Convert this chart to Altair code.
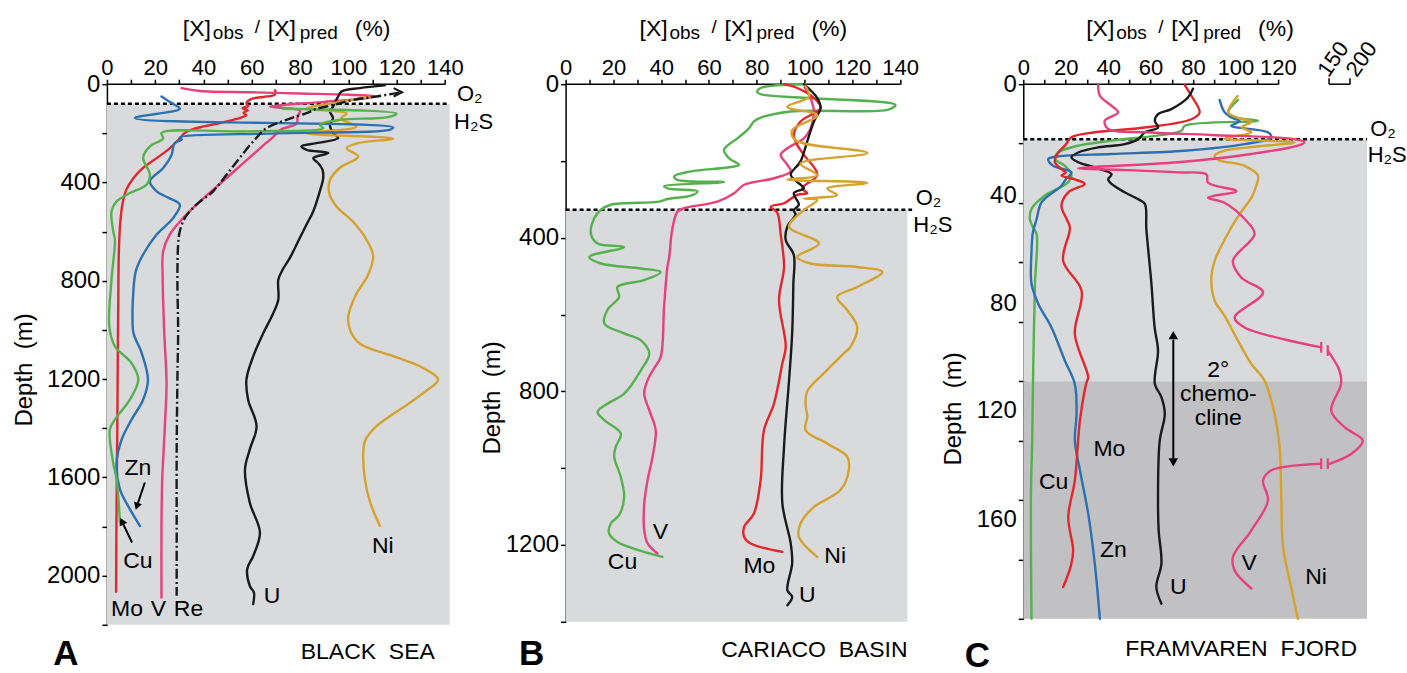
import altair as alt
import pandas as pd

FONT = "Liberation Sans"
ELEMENTS = ["Mo", "V", "Cu", "Zn", "Ni", "U", "Re"]
COLORS = ["#e3262d", "#e8407b", "#55b14f", "#2b70b3", "#d4a22e", "#1a1a1a", "#1a1a1a"]
LIGHT = "#d9dadc"
DARK = "#c1c1c3"

# ---------------- Panel A : Black Sea  (x %, depth m) ----------------
A_MO = [(69.7, 25), (69.6, 42), (64.8, 52), (59.9, 60), (57.8, 77), (58.5, 88), (56.2, 98), (58.4, 106),
        (56.6, 116), (57.8, 126), (55.8, 135), (52.3, 145), (46, 160), (40, 172), (35, 185), (32, 200),
        (29.8, 225), (25.5, 265), (20, 305), (14.5, 345), (10.8, 385), (8, 430), (6.4, 490), (5.4, 580),
        (4.9, 700), (4.7, 900), (4.5, 1100), (4.3, 1400), (4.0, 1700), (3.8, 2065)]
A_V = [(30.9, 16), (38.5, 28), (60, 33), (80, 38), (100, 43), (111, 50), (105, 60), (90, 72), (67.5, 91),
       (72, 96), (80, 108), (79, 130), (78.6, 160), (72, 185), (69, 213), (63.5, 260), (56.6, 320),
       (48.6, 390), (41.6, 450), (36, 500), (31.6, 544), (26, 612), (23.3, 680), (23.1, 790), (23.7, 1000),
       (24.7, 1216), (24.2, 1350), (23.3, 1527), (22.9, 1608), (22.6, 1800), (22.6, 2089)]
A_RE = [(121, 35), (111.7, 50), (102, 64), (93.7, 85), (87, 100), (82.7, 118), (74.4, 145), (66.1, 179),
        (60.6, 233), (55, 300), (49.6, 368), (44, 436), (37.1, 490), (32.3, 544), (30.2, 598), (29.5, 653),
        (29.2, 800), (29.5, 1000), (29.2, 1200), (28.9, 1500), (28.9, 1800), (28.9, 2082)]
A_RE_HEAD = [(120.5, 33)]
A_U = [(115.1, 5), (104.8, 16), (97.2, 30), (95.4, 57), (93.7, 91), (92.4, 111), (93.7, 138), (92.4, 165),
       (93.7, 199), (95.8, 219), (86.8, 240), (80.6, 253), (82.7, 267), (91.7, 280), (85.5, 301),
       (87.5, 321), (89.3, 348), (89.6, 382), (88.2, 436), (85.5, 517), (82.7, 571), (79.9, 626),
       (75.8, 707), (72.5, 760), (71, 796), (71, 877), (68.9, 932), (64.8, 1013), (60.6, 1108),
       (57.8, 1202), (58.5, 1284), (62, 1392), (59.2, 1486), (57.2, 1568), (59.2, 1703), (63.4, 1825),
       (60.6, 1920), (58.1, 1974), (59.2, 2042), (60.9, 2069), (60.6, 2116)]
A_NI = [(108.2, 51), (95, 75), (82.7, 99), (99.3, 119), (97, 140), (103.4, 173), (82.7, 200), (118.6, 221),
        (104, 240), (99.3, 260), (104.1, 295), (96.5, 340), (92.4, 390), (92, 440), (95.1, 498), (102, 560),
        (107.6, 634), (110.3, 700), (108, 780), (103, 860), (99.9, 959), (104, 1050), (118.6, 1107),
        (130, 1150), (137.2, 1202), (132, 1250), (125, 1300), (111.7, 1392), (107, 1450), (106.2, 1500),
        (106.9, 1608), (109, 1700), (113.1, 1798)]
A_ZN = [(22.6, 50), (26.8, 77), (30.2, 100), (11.6, 138), (118.6, 176), (117, 186), (70, 200), (30.2, 217),
        (31, 225), (28, 240), (26.8, 287), (23.3, 341), (17.8, 395), (20.6, 436), (25, 460), (30.2, 490),
        (27.5, 544), (20.6, 612), (15, 693), (12, 760), (10.9, 850), (10.6, 950), (11, 1013), (14.4, 1094),
        (17, 1202), (15, 1284), (10.2, 1365), (6.1, 1446), (4, 1540), (5.4, 1649), (8.8, 1717), (13.7, 1798)]
A_CU = [(73, 100), (120, 120), (115.8, 135), (96.5, 145), (88.2, 165), (89.6, 179), (59.2, 192),
        (22.6, 199), (23.3, 221), (17.8, 253), (15, 300), (17.8, 368), (16.4, 409), (9.5, 443), (4, 477),
        (1.9, 517), (2.6, 598), (3.3, 634), (1.9, 796), (1, 986), (3.3, 1067), (10.2, 1135), (13, 1202),
        (9.5, 1284), (3.3, 1365), (1.2, 1405), (2.6, 1541), (4, 1608), (5.4, 1784)]
A_LABELS = [("Zn", 12.8, 1560), ("Cu", 12.8, 1942), ("Mo", 8.3, 2137), ("V", 21.3, 2137),
            ("Re", 33.8, 2137), ("U", 68.4, 2084), ("Ni", 114.3, 1881)]
A_ARROWS = [(15.7, 1621, 12.4, 1718, 198), (10.4, 1865, 6.2, 1779, 335)]

# ---------------- Panel B : Cariaco Basin ----------------
B_CU = [(100.4, 0), (81.6, 10), (80.2, 21), (83, 28), (101, 36), (138, 54), (135, 66), (94.2, 71),
        (81.6, 87), (78.8, 97), (76.7, 115), (71.9, 141), (66.3, 171), (68.4, 193), (72.6, 210), (67.7, 217),
        (52.4, 227), (45.4, 240), (46.8, 249), (66.3, 255), (41.2, 266), (43, 272), (55.2, 279), (52.4, 290),
        (42.6, 299), (39.1, 306), (18.9, 314), (14.8, 327), (12, 349), (10.6, 390), (13.4, 415), (24.5, 424),
        (9.9, 450), (14.8, 467), (31.5, 480), (39.8, 489), (32.9, 510), (21.7, 528), (22.4, 554), (17.5, 588),
        (16.2, 623), (24.5, 649), (31.5, 667), (35, 701), (31.5, 745), (24.5, 806), (17.5, 832), (13.4, 853),
        (16.2, 875), (23.1, 910), (21, 944), (20.3, 970), (23.1, 1023), (24.5, 1075), (22.4, 1122),
        (18.9, 1144), (18.2, 1170), (21.7, 1192), (40.5, 1231)]
B_V = [(100, 8), (101.1, 19), (102.5, 36), (103.9, 71), (102.5, 115), (99.7, 141), (92.8, 167), (90, 184),
       (92.8, 210), (94.2, 227), (87.2, 245), (74.7, 262), (70.5, 284), (63.5, 306), (49.6, 323), (46.8, 332),
       (44.7, 375), (43.3, 453), (42.6, 476), (41.2, 580), (39.8, 710), (37, 740), (34.3, 771), (32.9, 806),
       (35, 849), (37.7, 901), (36.4, 970), (34.3, 1031), (32.9, 1092), (32.9, 1161), (34.3, 1196),
       (38.4, 1222)]
B_MO = [(91.4, 0), (96.9, 10), (103.9, 36), (106.7, 62), (102.5, 80), (98.3, 97), (95.5, 132), (96.9, 158),
        (99.7, 184), (105.3, 236), (99, 271), (101.1, 284), (96.9, 288), (91.4, 310), (85.8, 319),
        (88.6, 335), (90, 392), (91.4, 476), (89.3, 562), (92.1, 684), (90.7, 727), (87.2, 832), (83, 901),
        (81.6, 1031), (78.8, 1118), (74.7, 1153), (74.7, 1179), (77.4, 1196), (90.7, 1218)]
B_U = [(99.7, 0), (105.3, 36), (106.7, 62), (103.9, 97), (101.1, 149), (98.3, 201), (94.2, 236), (97, 255),
       (99.7, 271), (95.5, 284), (97.6, 314), (95.5, 328), (96.2, 340), (92.8, 371), (92.1, 406), (95.5, 445),
       (95.3, 519), (94.8, 649), (93.5, 771), (91.4, 944), (90.7, 1092), (94.2, 1196), (94.8, 1248),
       (92.8, 1318), (94.8, 1335), (92.8, 1357)]
B_NI = [(100.4, 5), (101.8, 33), (92.8, 59), (105.3, 81), (94.8, 120), (96.2, 146), (126.2, 179), (98.3, 207),
        (105.3, 237), (92.8, 248), (126.2, 257), (109.5, 272), (113.6, 289), (99.7, 298), (105.3, 302),
        (99.7, 328), (93.5, 371), (106, 415), (96.9, 450), (102.5, 467), (122, 476), (132.5, 489), (122, 528),
        (113.6, 554), (117.8, 588), (122, 632), (119.2, 684), (116.4, 701), (108, 753), (101.1, 800),
        (100.4, 832), (101.1, 866), (100.4, 901), (109.5, 936), (117.8, 970), (118.5, 1005), (115, 1057),
        (103.9, 1101), (98.3, 1144), (97.6, 1179), (105.3, 1231)]
B_LABELS = [("Cu", 23.8, 1245), ("V", 39.7, 1167), ("Mo", 81.1, 1255), ("Ni", 112.8, 1229), ("U", 101.1, 1331)]

# ---------------- Panel C : Framvaren Fjord ----------------
C_U = [(80, 1.5), (77.6, 4.5), (69.8, 8.4), (63.5, 10.1), (62, 12.3), (63.5, 14.6), (57.3, 16.2), (54.1, 18.5),
       (47.8, 20.2), (35.3, 21.3), (25.9, 23), (22.7, 24.6), (25.9, 26.3), (33.7, 28), (41.6, 30.3), (40, 32),
       (41.6, 33.6), (47.8, 36.4), (54.1, 38.7), (57.3, 40.3), (58, 48.7), (60.4, 67.3), (61.9, 81.9),
       (63.5, 89.7), (62, 100.9), (65.1, 105.4), (66.7, 111), (64.3, 120), (63.5, 139), (63.8, 150.2),
       (65.1, 161.4), (62.7, 169.3), (65.1, 174.9)]
C_MO = [(76.1, 0.3), (79.2, 3.9), (83.1, 9.5), (79.2, 11.8), (57.3, 14.6), (33.7, 16.2), (22.7, 17.9),
        (19.6, 20.7), (16.5, 23), (14.9, 26.3), (18, 28.6), (20, 29.8), (18, 30.8), (24, 32), (29, 33.6),
        (21.2, 36.4), (18, 40.9), (20.4, 45.4), (22, 48.3), (18.8, 59.5), (27.5, 69.6), (24.3, 84.1),
        (30.6, 98.7), (29.8, 100.4), (26.7, 113.3), (24.3, 133.4), (21.2, 145.7), (23.5, 157), (22.5, 162),
        (18.8, 169.3)]
C_ZN = [(92.5, 5.3), (94.9, 9.5), (98, 11.2), (102, 12.5), (98, 14), (115.3, 16.2), (116.9, 17.9), (104.3, 20.2),
        (76.1, 22.4), (41.6, 23.5), (16.5, 24.3), (11.8, 25.2), (14.1, 27.5), (22.7, 29.7), (20, 32), (18, 34.2),
        (8.6, 39.8), (6.3, 45.4), (4.5, 50), (3.9, 56.1), (3.9, 67.3), (7.1, 74), (13.3, 81.9), (19.6, 93.1),
        (24.3, 101), (25.1, 111), (24.3, 120), (26.7, 130), (30.6, 144.6), (33.7, 161.4), (36.1, 180)]
C_CU = [(101.2, 5.3), (96.5, 9.5), (98, 11), (110.6, 12.3), (76.1, 14), (74.5, 15.7), (41.6, 19), (25.9, 20.7),
        (16.5, 23), (14.9, 25.2), (19.6, 27.5), (22.7, 30.3), (21.2, 33), (10.2, 37.5), (3.9, 42), (3.1, 45.4),
        (4.7, 48.3), (6.3, 50.5), (5.5, 67.3), (4.7, 95.3), (4.2, 120), (3.6, 139), (3.9, 180)]
C_V1 = [(35.3, 0.3), (36.1, 3.9), (41.6, 7.3), (44.7, 9.5), (38.4, 12.3), (40, 15.1), (57.3, 16.2), (88.6, 17.1),
        (127.8, 18.5), (132.5, 19.6), (129.4, 20.7), (107.5, 23.5), (72.9, 26.3), (25.9, 28.3), (44.7, 28.8),
        (72.9, 29.7), (86.3, 30.4), (87.1, 33.2), (100.4, 36), (87.1, 38.2), (95, 40), (105.1, 46), (109, 50.5),
        (98.8, 59.5), (102.7, 65.1), (113, 70.1), (99.6, 78.5), (104.3, 81.9), (140.4, 88.6)]
C_V2 = [(143.5, 89.7), (149, 96.4), (149.8, 100.9), (145.1, 109.9), (151.4, 115.5), (160, 120), (154.5, 124.5),
        (144.3, 127.8)]
C_V3 = [(140.4, 127.8), (116.9, 130), (113, 133.4), (115.3, 140.1), (107.5, 150.2), (98.8, 159.2),
        (99.6, 163.7), (107.5, 169.8)]
C_NI = [(101, 4), (96.5, 9.5), (100, 11), (107.5, 12.7), (103, 14.5), (107.5, 16.2), (100, 17.5), (94.9, 18.3),
        (110, 18.9), (127.8, 19.6), (110, 21), (94.9, 22.4), (90.2, 24.1), (92, 25.5), (104.3, 27.5),
        (110.6, 30.8), (109.8, 34.2), (107.5, 38.2), (102.7, 43), (98, 48.3), (90.2, 59.5), (88.6, 66),
        (90.2, 72.9), (94.9, 78), (101.2, 86.4), (107.5, 94.2), (113.7, 99.8), (118.4, 111), (120.8, 122.2),
        (121.6, 139), (122.4, 155.8), (125.5, 167), (129.4, 180)]
C_LABELS = [("Cu", 14.3, 134.1), ("Mo", 40.6, 122.7), ("Zn", 42.5, 157), ("U", 73.1, 169.4),
            ("V", 106.5, 161.3), ("Ni", 138, 166)]
C_BREAKS = [(140.4, 88.6), (143.5, 89.7), (140.4, 127.8), (143.5, 127.8)]
C_BREAK_LABELS = [("150", 141.1), ("200", 154.4)]


def series_df(series):
    rows = []
    for el, seg, pts in series:
        for i, (x, d) in enumerate(pts):
            rows.append({"el": el, "seg": seg, "i": i, "x": x, "d": d})
    return pd.DataFrame(rows)


def text_at(text, px, py, size, **kw):
    return alt.Chart(pd.DataFrame({"k": [0]})).mark_text(
        text=text, fontSize=size, font=FONT, color="black", **kw
    ).encode(x=alt.value(px), y=alt.value(py))


def title_layers(x0):
    pieces = [("[X]", 0, 23, 0), ("obs", 30, 19, 2.5), ("/", 72, 19, -3), ("[X]", 85, 23, 0),
              ("pred", 117, 19, 2.5), ("(%)", 172, 23, 0)]
    return [text_at(t, x0 + dx, -48 + dy, s, align="left", baseline="alphabetic") for t, dx, s, dy in pieces]


def panel(p):
    xs = alt.Scale(domain=[0, p["xmax"]], nice=False, zero=False)
    ys = alt.Scale(domain=[0, p["dmax"]], reverse=True, nice=False, zero=False)
    xaxis = alt.Axis(orient="top", values=p["xticks"], format="d",
                     labelExpr="datum.value % 20 == 0 ? datum.label : ''",
                     domain=False, grid=False, title=None, tickSize=5, tickWidth=1.5, tickColor="black",
                     labelFont=FONT, labelFontSize=22, labelColor="black", labelPadding=0,
                     labelFlush=False, labelOverlap=False, labelAngle=0)
    yexpr = "datum.value % " + str(p["ylab"]) + " == 0 ? datum.label : ''"
    yargs = dict(orient="left", values=p["yticks"], format="d", labelExpr=yexpr,
                 domain=True, domainColor="black", domainWidth=1.5, grid=False, title=None,
                 tickSize=5, tickWidth=1.5, tickColor="black", labelFont=FONT, labelFontSize=24,
                 labelColor="black", labelPadding=2, labelFlush=False, labelOverlap=False)
    if "yoffset" in p:
        yargs["labelOffset"] = p["yoffset"]
    yaxis = alt.Axis(**yargs)
    X = lambda f: alt.X(f, type="quantitative", scale=xs, axis=xaxis)
    Y = lambda f: alt.Y(f, type="quantitative", scale=ys, axis=yaxis)

    layers = []
    bg = pd.DataFrame(p["bg"], columns=["x0", "x1", "d0", "d1", "fill"])
    layers.append(alt.Chart(bg).mark_rect().encode(
        x=X("x0"), x2="x1", y=Y("d0"), y2="d1", color=alt.Color("fill:N", scale=None)))
    # top axis line
    layers.append(alt.Chart(pd.DataFrame({"x0": [0], "x1": [p["xaxmax"]], "d": [0]})).mark_rule(
        color="black", strokeWidth=1.5).encode(x=X("x0"), x2="x1", y=Y("d")))
    # O2/H2S interface
    layers.append(alt.Chart(pd.DataFrame({"x0": [0], "x1": [p["dotmax"]], "d": [p["iface"]]})).mark_rule(
        color="black", strokeWidth=2.5, strokeDash=[4, 3]).encode(x=X("x0"), x2="x1", y=Y("d")))
    df = series_df(p["series"])
    layers.append(alt.Chart(df).mark_line(strokeWidth=2.4, interpolate="catmull-rom",
                                          strokeJoin="round", strokeCap="round").encode(
        x=X("x"), y=Y("d"),
        color=alt.Color("el:N", scale=alt.Scale(domain=ELEMENTS, range=COLORS), legend=None),
        detail="seg:N", order="i:Q"))
    if p.get("re"):
        layers.append(alt.Chart(series_df([("Re", "Re", p["re"])])).mark_line(
            strokeWidth=2.4, color="#1a1a1a", strokeDash=[10, 3, 2, 3], interpolate="catmull-rom").encode(
            x=X("x"), y=Y("d"), order="i:Q"))
        head = pd.DataFrame(A_RE_HEAD, columns=["x", "d"])
        layers.append(alt.Chart(head).mark_point(shape="M-1,-1L1,0L-1,1", filled=False, size=70,
                                                 color="#1a1a1a", strokeWidth=2.2, opacity=1).encode(
            x=X("x"), y=Y("d")))
    lab = pd.DataFrame(p["labels"], columns=["t", "x", "d"])
    layers.append(alt.Chart(lab).mark_text(fontSize=23, font=FONT, color="black").encode(
        x=X("x"), y=Y("d"), text="t:N"))
    io = pd.DataFrame(p["o2"], columns=["t", "x", "d"])
    layers.append(alt.Chart(io).mark_text(fontSize=22, font=FONT, color="black", align="left").encode(
        x=X("x"), y=Y("d"), text="t:N"))
    for extra in p.get("extra", []):
        layers.append(extra(X, Y))
    layers += title_layers(p["tx"])
    layers.append(text_at("Depth\u00a0\u00a0(m)", p["depth_xy"][0], p["depth_xy"][1], 24, angle=270,
                          align="center", baseline="middle"))
    layers.append(text_at(p["name"], p["name_xy"][0], p["name_xy"][1], 23, align="center", baseline="middle"))
    layers.append(text_at(p["letter"], p["letter_xy"][0], p["letter_xy"][1], 35, align="center",
                          baseline="alphabetic", fontWeight="bold"))
    return alt.layer(*layers).properties(width=p["w"], height=p["h"])


def a_arrows(X, Y):
    df = pd.DataFrame(A_ARROWS, columns=["x0", "d0", "x1", "d1", "a"])
    shaft = alt.Chart(df).mark_rule(color="black", strokeWidth=2).encode(x=X("x0"), x2="x1", y=Y("d0"), y2="d1")
    head = alt.Chart(df).mark_point(shape="triangle-up", filled=True, size=70, color="black", opacity=1).encode(
        x=X("x1"), y=Y("d1"), angle=alt.Angle("a:Q", scale=None))
    return alt.layer(shaft, head)


def c_extras(X, Y):
    br = pd.DataFrame(C_BREAKS, columns=["x", "d"])
    br["d0"] = br["d"] - 1.8
    br["d1"] = br["d"] + 1.8
    breaks = alt.Chart(br).mark_rule(color="#e8407b", strokeWidth=2.2).encode(x=X("x"), y=Y("d0"), y2="d1")
    arr = pd.DataFrame({"x": [70.7, 70.7], "d": [84.5, 127.3], "a": [0, 180]})
    shaft = alt.Chart(pd.DataFrame({"x": [70.7], "d0": [86], "d1": [126]})).mark_rule(
        color="black", strokeWidth=2).encode(x=X("x"), y=Y("d0"), y2="d1")
    heads = alt.Chart(arr).mark_point(shape="triangle-up", filled=True, size=90, color="black", opacity=1).encode(
        x=X("x"), y=Y("d"), angle=alt.Angle("a:Q", scale=None))
    chemo = pd.DataFrame([("2°", 91.9, 96.1), ("chemo-", 91.9, 104.2), ("cline", 91.9, 112.3)],
                         columns=["t", "x", "d"])
    chemo_t = alt.Chart(chemo).mark_text(fontSize=23, font=FONT, color="black").encode(
        x=X("x"), y=Y("d"), text="t:N")
    bl = pd.DataFrame(C_BREAK_LABELS, columns=["t", "x"])
    blt = alt.Chart(bl).mark_text(fontSize=22, font=FONT, color="black", angle=305, align="left",
                                  baseline="middle").encode(x=X("x"), y=alt.value(-10), text="t:N")
    brk = pd.DataFrame({"x0": [144.1], "x1": [154.0]})
    bh = alt.Chart(brk).mark_rule(color="black", strokeWidth=1.5).encode(x=X("x0"), x2="x1", y=alt.value(0))
    bv = alt.Chart(pd.DataFrame({"x": [144.1, 154.0]})).mark_rule(color="black", strokeWidth=1.5).encode(
        x=X("x"), y=alt.value(-6), y2=alt.value(0))
    return alt.layer(breaks, shaft, heads, chemo_t, blt, bh, bv)


PA = dict(w=343, h=541, xmax=142, xaxmax=140, dmax=2200, iface=80, dotmax=142,
          xticks=list(range(0, 141, 10)), yticks=list(range(0, 2201, 200)), ylab=400,
          bg=[(0, 142, 80, 2200, LIGHT)],
          series=[("Mo", "Mo", A_MO), ("V", "V", A_V), ("U", "U", A_U), ("Ni", "Ni", A_NI),
                  ("Zn", "Zn", A_ZN), ("Cu", "Cu", A_CU)],
          re=A_RE, labels=A_LABELS,
          o2=[("O₂", 145.0, 38), ("H₂S", 143.8, 155)],
          extra=[a_arrows], tx=76, depth_xy=(-82, 286), name="BLACK\u00a0\u00a0SEA", name_xy=(261, 568),
          letter="A", letter_xy=(-41, 581))
PB = dict(w=342, h=538, xmax=143, xaxmax=140, dmax=1400, iface=327, dotmax=145,
          xticks=list(range(0, 141, 10)), yticks=list(range(0, 1401, 200)), ylab=400,
          bg=[(0, 143, 327, 1400, LIGHT)],
          series=[("Cu", "Cu", B_CU), ("V", "V", B_V), ("Mo", "Mo", B_MO), ("U", "U", B_U), ("Ni", "Ni", B_NI)],
          labels=B_LABELS,
          o2=[("O₂", 146.5, 296), ("H₂S", 145.5, 368)],
          tx=74, depth_xy=(-73, 314), name="CARIACO\u00a0\u00a0BASIN", name_xy=(249, 566),
          letter="B", letter_xy=(-34, 581))
PC = dict(w=344, h=535, xmax=162, xaxmax=120, dmax=180, iface=18.5, dotmax=162,
          xticks=list(range(0, 121, 10)), yticks=list(range(0, 181, 20)), ylab=40,
          yoffset={"condition": [{"test": "datum.value == 40", "value": -7},
                                 {"test": "datum.value == 80", "value": -18},
                                 {"test": "datum.value == 120", "value": -30},
                                 {"test": "datum.value == 160", "value": -40}], "value": 0},
          bg=[(0, 162, 18.5, 100, LIGHT), (0, 162, 100, 180, DARK)],
          series=[("Cu", "Cu", C_CU), ("Zn", "Zn", C_ZN), ("Mo", "Mo", C_MO), ("U", "U", C_U),
                  ("Ni", "Ni", C_NI), ("V", "V1", C_V1), ("V", "V2", C_V2), ("V", "V3", C_V3)],
          labels=C_LABELS,
          o2=[("O₂", 163.5, 15.1), ("H₂S", 162.3, 24)],
          extra=[c_extras], tx=63, depth_xy=(-69, 325), name="FRAMVAREN\u00a0\u00a0FJORD", name_xy=(218, 565),
          letter="C", letter_xy=(-46, 583))

chart = alt.hconcat(panel(PA), panel(PB), panel(PC), spacing=116, bounds="flush").properties(
    padding={"left": 13, "top": 18, "right": 0, "bottom": 0}
).configure_view(stroke=None)

chart.save("out.html", embed_options={"renderer": "svg", "actions": False})
